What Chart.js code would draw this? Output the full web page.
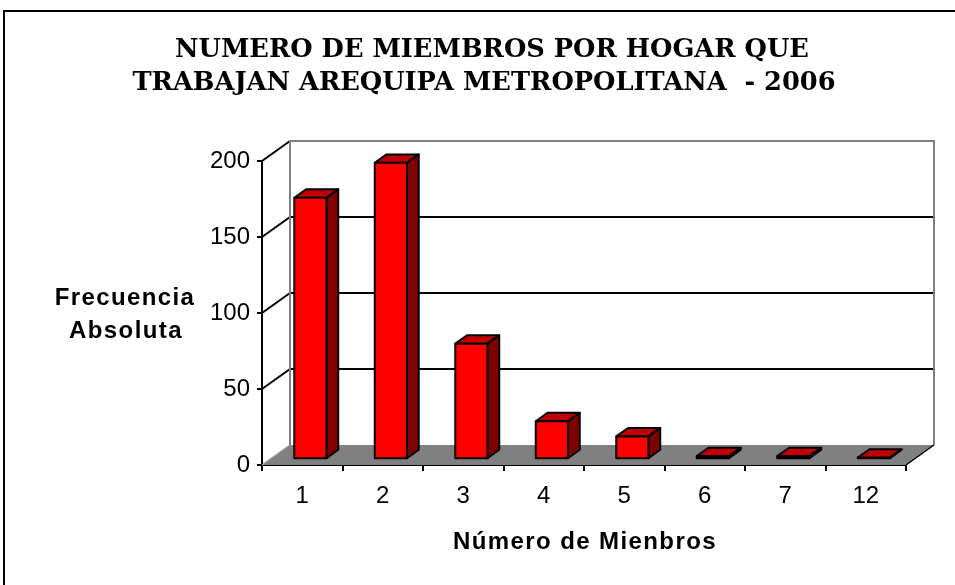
<!DOCTYPE html>
<html>
<head>
<meta charset="utf-8">
<script src="https://cdn.jsdelivr.net/npm/chart.js@4.4.1/dist/chart.umd.min.js"></script>
<style>
  body { margin: 0; background: #fff; }
  #wrap { width: 955px; height: 585px; }
</style>
</head>
<body>
<div id="wrap"><canvas id="chart" width="955" height="585"></canvas></div>
<script>
const categories = ['1', '2', '3', '4', '5', '6', '7', '12'];
const frecuencia = [172, 195, 76, 25, 15, 2, 2, 1];
const yTickValues = [0, 50, 100, 150, 200];

const titleLines = ['NUMERO DE MIEMBROS POR HOGAR QUE', 'TRABAJAN AREQUIPA METROPOLITANA  - 2006'];
const yTitleLines = ['Frecuencia', 'Absoluta'];
const xTitle = 'Número de Mienbros';

// 3d depth of the plot box and where the bars sit inside it
const DX = 28, DY = -20;
const BAR_D0 = 0.29, BAR_D1 = 0.71;

const box3d = {
  id: 'box3d',
  beforeDatasetsDraw(chart) {
    const { ctx, chartArea: a, scales: { y } } = chart;
    ctx.save();
    // floor
    ctx.fillStyle = '#808080';
    ctx.beginPath();
    ctx.moveTo(a.left, a.bottom);
    ctx.lineTo(a.right, a.bottom);
    ctx.lineTo(a.right + DX, a.bottom + DY);
    ctx.lineTo(a.left + DX, a.bottom + DY);
    ctx.closePath();
    ctx.fill();
    // back wall gridlines
    ctx.strokeStyle = '#000';
    ctx.lineWidth = 2;
    yTickValues.forEach(v => {
      const py = y.getPixelForValue(v);
      if (v > 0 && v < 200) {
        ctx.beginPath();
        ctx.moveTo(a.left + DX, py + DY);
        ctx.lineTo(a.right + DX, py + DY);
        ctx.stroke();
      }
      if (v > 0) {
        ctx.beginPath();
        ctx.moveTo(a.left, py);
        ctx.lineTo(a.left + DX, py + DY);
        ctx.stroke();
      }
    });
    // back wall border
    ctx.strokeStyle = '#808080';
    ctx.beginPath();
    ctx.moveTo(a.left + DX, a.bottom + DY);
    ctx.lineTo(a.left + DX, a.top + DY);
    ctx.lineTo(a.right + DX, a.top + DY);
    ctx.lineTo(a.right + DX, a.bottom + DY);
    ctx.stroke();
    // floor edges
    ctx.strokeStyle = '#999';
    ctx.lineWidth = 1.5;
    ctx.beginPath();
    ctx.moveTo(a.left, a.bottom);
    ctx.lineTo(a.left + DX, a.bottom + DY);
    ctx.stroke();
    ctx.strokeStyle = '#000';
    ctx.beginPath();
    ctx.moveTo(a.right, a.bottom);
    ctx.lineTo(a.right + DX, a.bottom + DY);
    ctx.stroke();
    ctx.restore();
  },
  afterDatasetsDraw(chart) {
    const { ctx } = chart;
    const meta = chart.getDatasetMeta(0);
    const ox = DX * BAR_D0, oy = DY * BAR_D0;
    const sx = DX * (BAR_D1 - BAR_D0), sy = DY * (BAR_D1 - BAR_D0);
    ctx.save();
    ctx.lineJoin = 'round';
    ctx.strokeStyle = '#000';
    ctx.lineWidth = 2;
    meta.data.forEach(bar => {
      const { x, y, base, width } = bar.getProps(['x', 'y', 'base', 'width'], true);
      const l = x - width / 2 + ox, r = x + width / 2 + ox;
      const t = y + oy, b = base + oy;
      // top
      ctx.fillStyle = '#C00000';
      ctx.beginPath();
      ctx.moveTo(l, t); ctx.lineTo(l + sx, t + sy); ctx.lineTo(r + sx, t + sy); ctx.lineTo(r, t);
      ctx.closePath(); ctx.fill(); ctx.stroke();
      // side
      ctx.fillStyle = '#800000';
      ctx.beginPath();
      ctx.moveTo(r, t); ctx.lineTo(r + sx, t + sy); ctx.lineTo(r + sx, b + sy); ctx.lineTo(r, b);
      ctx.closePath(); ctx.fill(); ctx.stroke();
      // front
      ctx.fillStyle = '#FF0000';
      ctx.beginPath();
      ctx.rect(l, t, r - l, b - t);
      ctx.fill(); ctx.stroke();
    });
    ctx.restore();
  },
  afterDraw(chart) {
    const { ctx } = chart;
    ctx.save();
    ctx.fillStyle = '#000';
    ctx.textAlign = 'center';
    ctx.textBaseline = 'alphabetic';
    ctx.font = 'bold 25.7px "DejaVu Serif"';
    ctx.fillText(titleLines[0], 492, 57);
    ctx.fillText(titleLines[1], 484, 90);
    ctx.font = 'bold 24px "Liberation Sans", Arial';
    ctx.letterSpacing = '1.4px';
    ctx.fillText(yTitleLines[0], 125, 305);
    ctx.fillText(yTitleLines[1], 126, 338);
    ctx.fillText(xTitle, 585, 549);
    ctx.letterSpacing = '0px';
    // outer frame
    ctx.strokeStyle = '#000';
    ctx.lineWidth = 2;
    ctx.strokeRect(4, 11, 1200, 1200);
    ctx.restore();
  }
};

new Chart(document.getElementById('chart'), {
  type: 'bar',
  data: {
    labels: categories,
    datasets: [{
      data: frecuencia,
      backgroundColor: 'rgba(0,0,0,0)',
      borderWidth: 0,
      barPercentage: 0.4,
      categoryPercentage: 1
    }]
  },
  options: {
    responsive: false,
    animation: false,
    events: [],
    layout: { padding: { top: 161, right: 49, left: 0, bottom: 0 } },
    plugins: {
      legend: { display: false },
      title: { display: false },
      tooltip: { enabled: false }
    },
    scales: {
      x: {
        afterFit: s => { s.height = 120; },
        border: { display: true, color: '#000', width: 2 },
        grid: { drawOnChartArea: false, color: '#000', lineWidth: 2, tickLength: 6, offset: true },
        ticks: { color: '#000', padding: 11, font: { size: 24, family: '"Liberation Sans", Arial' } }
      },
      y: {
        min: 0,
        max: 200,
        afterFit: s => { s.width = 262; },
        border: { display: true, color: '#000', width: 2 },
        grid: { drawOnChartArea: false, color: '#000', lineWidth: 2, tickLength: 5 },
        ticks: { stepSize: 50, color: '#000', padding: 7, font: { size: 24, family: '"Liberation Sans", Arial' } }
      }
    }
  },
  plugins: [box3d]
});
</script>
</body>
</html>
